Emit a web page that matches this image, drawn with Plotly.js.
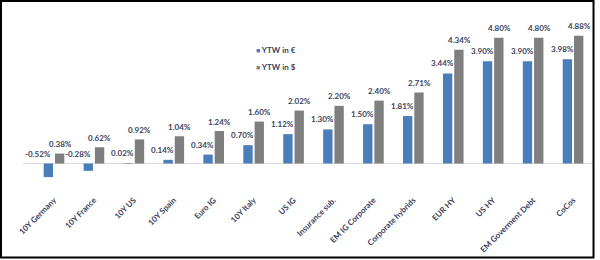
<!DOCTYPE html>
<html>
<head>
<meta charset="utf-8">
<script src="https://cdn.plot.ly/plotly-3.0.1.min.js"></script>
<style>
html,body{margin:0;padding:0;background:#fff;}
#chart{width:600px;height:260px;}
</style>
</head>
<body>
<div id="chart"></div>
<script>
const categories = ["10Y Germany","10Y France","10Y US","10Y Spain","Euro IG","10Y Italy","US IG","Insurance sub.","EM IG Corporate","Corporate hybrids","EUR HY","US HY","EM Goverment Debt","CoCos"];
const ytwEur = [-0.52,-0.28,0.02,0.14,0.34,0.70,1.12,1.30,1.50,1.81,3.44,3.90,3.90,3.98];
const ytwUsd = [0.38,0.62,0.92,1.04,1.24,1.60,2.02,2.20,2.40,2.71,4.34,4.80,4.80,4.88];
const seriesNames = ["YTW in €","YTW in $"];

const blue = "#4a7ebb";
const grey = "#7f7f7f";
const textColor = "#3b3f5c";
const fontFam = "Lato, 'Open Sans', sans-serif";

const traces = [
  {type:"bar", name:seriesNames[0], x:categories, y:ytwEur, marker:{color:blue}, hoverinfo:"none"},
  {type:"bar", name:seriesNames[1], x:categories, y:ytwUsd, marker:{color:grey}, hoverinfo:"none"}
];

const fmt = v => v.toFixed(2) + "%";
const annotations = [];
categories.forEach((c,i)=>{
  const v1 = ytwEur[i];
  annotations.push({x:c, y:Math.max(v1,0), xref:"x", yref:"y", text:fmt(v1), showarrow:false,
    xanchor:"center", yanchor:"bottom", yshift:3, xshift: v1<0 ? -16 : -11,
    font:{family:fontFam, size:8, color:textColor, weight:"bold"}});
  const v2 = ytwUsd[i];
  annotations.push({x:c, y:Math.max(v2,0), xref:"x", yref:"y", text:fmt(v2), showarrow:false,
    xanchor:"center", yanchor:"bottom", yshift:2.5, xshift:6,
    font:{family:fontFam, size:8, color:textColor, weight:"bold"}});
});
// legend drawn as annotations
[[seriesNames[0], blue, 0.781],[seriesNames[1], grey, 0.689]].forEach(([n,col,yy])=>{
  annotations.push({xref:"paper", yref:"paper", x:0.405, y:yy, xanchor:"left", yanchor:"middle",
    showarrow:false, text:'<span style="color:'+col+';font-size:7px">■</span> ' + n,
    font:{family:fontFam, size:8, color:textColor, weight:"bold"}});
});

const layout = {
  width:600, height:260,
  margin:{l:23, r:7, t:10, b:67, pad:0},
  paper_bgcolor:"#fff", plot_bgcolor:"#fff",
  barmode:"group", bargap:0.435, bargroupgap:0.17,
  showlegend:false,
  xaxis:{type:"category", tickangle:-45, showgrid:false, showline:false, ticks:"", zeroline:false,
    tickfont:{family:fontFam, size:8, color:textColor, weight:"bold"}, automargin:false},
  yaxis:{range:[-1.126,5.859], showgrid:false, showticklabels:false, ticks:"", showline:false,
    zeroline:true, zerolinecolor:"#d9d9d9", zerolinewidth:1, fixedrange:true},
  annotations:annotations,
  shapes:[{type:"rect", xref:"paper", yref:"paper", x0:-0.0386, x1:1.0009, y0:-0.352, y1:1.049,
    line:{color:"#000", width:2}, fillcolor:"rgba(0,0,0,0)", layer:"above"}]
};
Plotly.newPlot("chart", traces, layout, {staticPlot:true, displayModeBar:false});
</script>
</body>
</html>
